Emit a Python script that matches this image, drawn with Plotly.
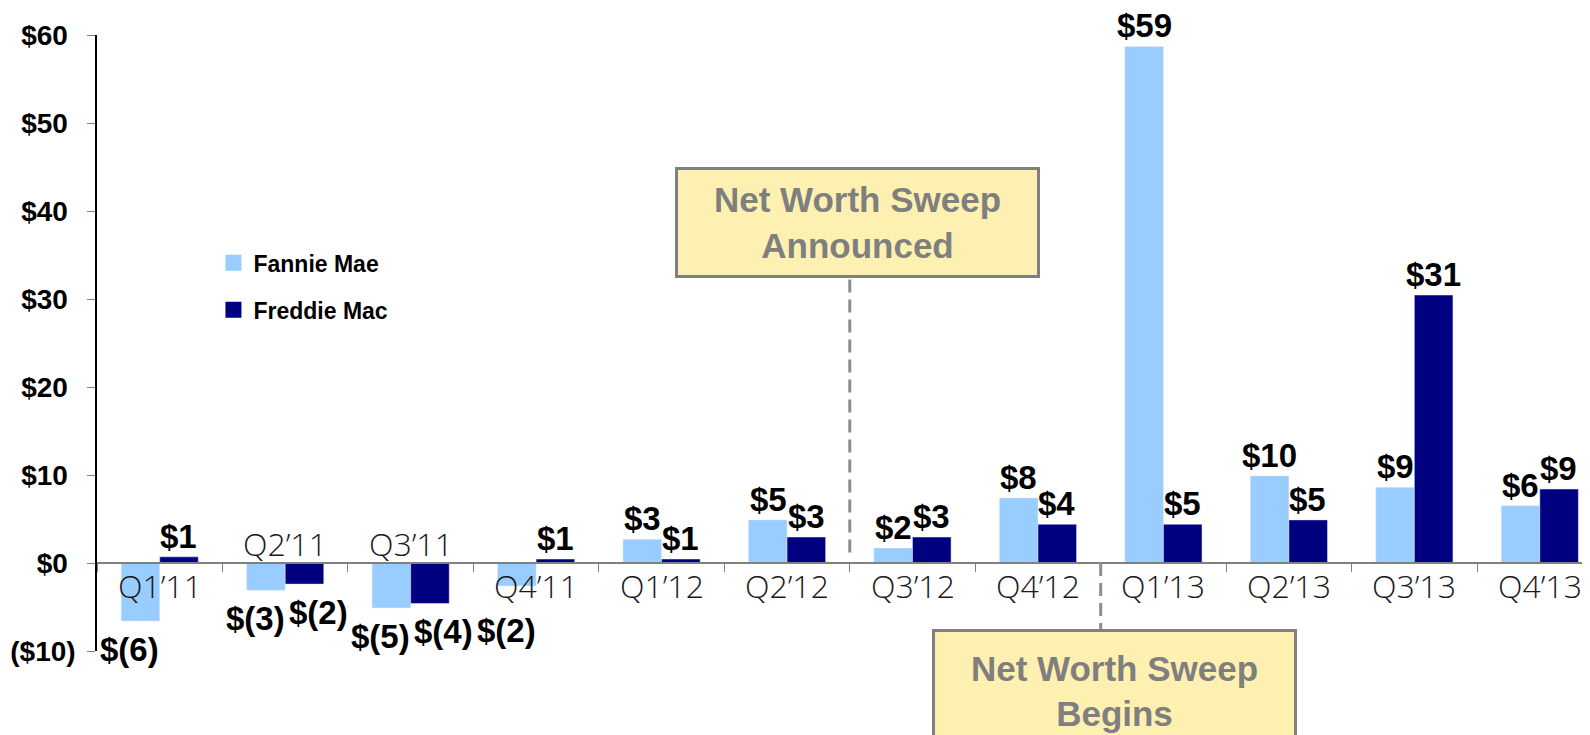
import plotly.graph_objects as go

# Quarterly net income, $ billions
quarters = ["Q1’11", "Q2’11", "Q3’11", "Q4’11", "Q1’12", "Q2’12",
            "Q3’12", "Q4’12", "Q1’13", "Q2’13", "Q3’13", "Q4’13"]
fannie = [-6.6, -3.1, -5.1, -2.6, 2.7, 4.9, 1.7, 7.4, 58.7, 9.9, 8.6, 6.5]
freddie = [0.7, -2.4, -4.6, 0.45, 0.45, 2.95, 2.95, 4.4, 4.4, 4.9, 30.45, 8.4]
fannie_labels = ["$(6)", "$(3)", "$(5)", "$(2)", "$3", "$5", "$2", "$8", "$59", "$10", "$9", "$6"]
freddie_labels = ["$1", "$(2)", "$(4)", "$1", "$1", "$3", "$3", "$4", "$5", "$5", "$31", "$9"]
y_ticks = [-10, 0, 10, 20, 30, 40, 50, 60]
y_tick_labels = ["($10)", "$0", "$10", "$20", "$30", "$40", "$50", "$60"]

FANNIE_COLOR = "#99CCFF"
FREDDIE_COLOR = "#000080"
LABEL_FONT = dict(family="Arial, Liberation Sans", size=33, color="black", weight="bold")
BOX_FONT = dict(family="Arial, Liberation Sans", size=35, color="#7F7F7F", weight="bold")
BAR_OFFSET = 19  # half of one bar's width, in px

fig = go.Figure()
fig.add_trace(go.Bar(x=quarters, y=fannie, name="Fannie Mae",
                     marker_color=FANNIE_COLOR, showlegend=False))
fig.add_trace(go.Bar(x=quarters, y=freddie, name="Freddie Mac",
                     marker_color=FREDDIE_COLOR, showlegend=False))

# legend entries with bigger square swatches
for name, color, grp in [("Fannie Mae", FANNIE_COLOR, "a"), ("Freddie Mac", FREDDIE_COLOR, "b")]:
    fig.add_trace(go.Scatter(x=[None], y=[None], mode="markers", name=name, legendgroup=grp,
                             marker=dict(symbol="square", size=16, color=color)))

# category labels sit above the axis when both bars are negative
label_above = [max(a, b) < 0 for a, b in zip(fannie, freddie)]

# value labels; negative ones are pushed apart so they don't collide,
# and kept clear of a category label that sits under the axis
for vals, labels, side, spread in [(fannie, fannie_labels, -1, 11), (freddie, freddie_labels, 1, 14)]:
    for cat, v, lab, above in zip(quarters, vals, labels, label_above):
        neg = v < 0
        y = v if (not neg or above) else min(v, -4.4)
        fig.add_annotation(
            x=cat, y=y, xref="x", yref="y", text=lab, showarrow=False,
            xshift=side * (BAR_OFFSET + (spread if neg else 0)),
            yanchor="top" if neg else "bottom",
            yshift=-8 if neg else 0,
            font=LABEL_FONT,
        )

for q, above in zip(quarters, label_above):
    fig.add_annotation(
        x=q, y=0, xref="x", yref="y", text=q, showarrow=False,
        yshift=20 if above else -22,
        font=dict(family="Open Sans", size=32, color="#1a1a1a", weight=300),
    )

# event call-outs
fig.add_shape(type="line", xref="x", yref="y", x0=5.5, x1=5.5, y0=1.2, y1=32.4,
              line=dict(color="#8C8C8C", width=3, dash="13px,7px"))
fig.add_shape(type="line", xref="x", yref="y", x0=7.5, x1=7.5, y0=0, y1=-7.6,
              line=dict(color="#8C8C8C", width=3, dash="13px,7px"))
fig.add_annotation(
    x=5.5, y=38.75, xref="x", yref="y", xshift=8,
    text="Net Worth Sweep<br>Announced", showarrow=False, font=BOX_FONT,
    bgcolor="#FDF0B0", bordercolor="#808080", borderwidth=3, borderpad=0,
    width=359, height=105,
)
fig.add_annotation(
    x=7.5, y=(651 - 691) / 616, xref="x", yref="paper", yanchor="middle", xshift=14,
    text="Net Worth Sweep<br>Begins", showarrow=False, font=BOX_FONT,
    bgcolor="#FDF0B0", bordercolor="#808080", borderwidth=3, borderpad=0,
    width=359, height=118,
)

# page body has an 8px margin, so the figure is 8px smaller each way
fig.update_layout(
    width=1582, height=727,
    margin=dict(l=89, r=0, t=27, b=84, autoexpand=False),
    plot_bgcolor="white", paper_bgcolor="white",
    barmode="group", bargap=0.385, bargroupgap=0,
    legend=dict(
        x=0.078, y=0.665, xanchor="left", yanchor="top",
        font=dict(family="Arial, Liberation Sans", size=23, color="black", weight="bold"),
        tracegroupgap=14, bgcolor="rgba(0,0,0,0)",
    ),
)
fig.update_xaxes(
    range=[-0.5, 11.4], showticklabels=False,
    showline=True, linecolor="#808080", linewidth=1.5,
    ticks="outside", tickson="boundaries", ticklen=8, tickcolor="#808080",
    anchor="free", position=88 / 616, showgrid=False, zeroline=False,
)
# positive labels get a trailing space, so ($10) hangs its bracket past them
fig.update_yaxes(
    range=[-10, 60], tickvals=y_ticks,
    ticktext=[t if t.startswith("(") else t + "\u00a0" for t in y_tick_labels],
    showline=True, linecolor="black", linewidth=1.5,
    ticks="outside", ticklen=8, tickcolor="#808080", ticklabelstandoff=6,
    tickfont=dict(family="Arial, Liberation Sans", size=28, color="black", weight="bold"),
    showgrid=False, zeroline=False,
)

fig.write_html("out.html")
